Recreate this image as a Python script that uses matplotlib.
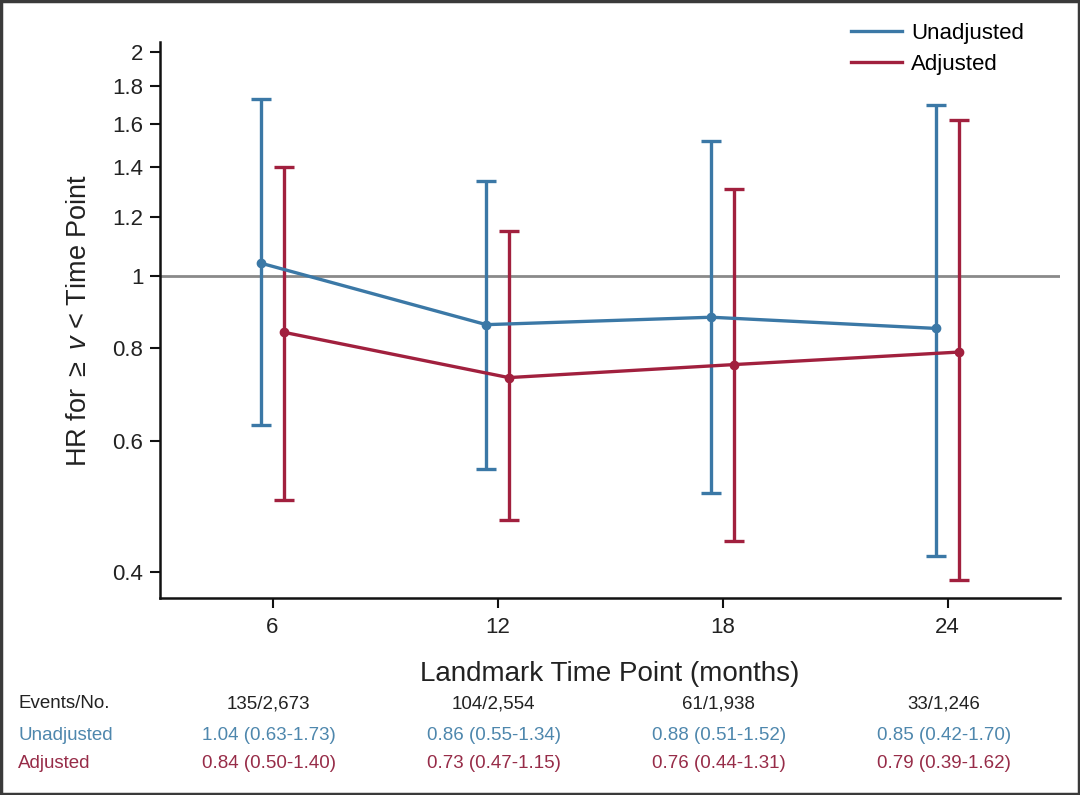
import matplotlib
matplotlib.use("Agg")
import matplotlib.pyplot as plt
from matplotlib.patches import Rectangle
from matplotlib.lines import Line2D

# ---- data ----
timepoints = [6, 12, 18, 24]
events = ["135/2,673", "104/2,554", "61/1,938", "33/1,246"]
unadj_hr = [1.04, 0.86, 0.88, 0.85]
unadj_lo = [0.63, 0.55, 0.51, 0.42]
unadj_hi = [1.73, 1.34, 1.52, 1.70]
adj_hr = [0.84, 0.73, 0.76, 0.79]
adj_lo = [0.50, 0.47, 0.44, 0.39]
adj_hi = [1.40, 1.15, 1.31, 1.62]
yticks = [0.4, 0.6, 0.8, 1, 1.2, 1.4, 1.6, 1.8, 2]
ytick_labels = ["0.4", "0.6", "0.8", "1", "1.2", "1.4", "1.6", "1.8", "2"]

BLUE = "#3b78a6"
RED = "#a1203e"
BLUE_T = "#4e87ad"
RED_T = "#972c48"

plt.rcParams["font.family"] = ["Liberation Sans", "DejaVu Sans"]
plt.rcParams["mathtext.fontset"] = "custom"
plt.rcParams["mathtext.rm"] = "Liberation Sans"
plt.rcParams["mathtext.it"] = "Liberation Sans:italic"

fig = plt.figure(figsize=(10.8, 7.95), dpi=100)
ax = fig.add_axes([160/1080, 1-598/795, 900/1080, (598-42)/795])

ax.set_yscale("log")
ax.set_ylim(0.369, 2.063)
ax.set_xlim(3, 27)

ax.axhline(1, color="#8a8a8a", lw=2.0, zorder=1)

off = 0.3
def draw(hr, lo, hi, dx, color):
    xs = [t + dx for t in timepoints]
    yerr = [[h - l for h, l in zip(hr, lo)], [u - h for h, u in zip(hr, hi)]]
    ax.errorbar(xs, hr, yerr=yerr, color=color, lw=2.4, elinewidth=2.4,
                capsize=7.5, capthick=2.4, marker="o", ms=6, zorder=3)

draw(unadj_hr, unadj_lo, unadj_hi, -off, BLUE)
draw(adj_hr, adj_lo, adj_hi, off, RED)

ax.yaxis.set_major_locator(matplotlib.ticker.FixedLocator(yticks))
ax.yaxis.set_major_formatter(matplotlib.ticker.FixedFormatter(ytick_labels))
ax.yaxis.set_minor_locator(matplotlib.ticker.NullLocator())
ax.set_xticks(timepoints)
ax.set_xticklabels([str(t) for t in timepoints])

for s in ["top", "right"]:
    ax.spines[s].set_visible(False)
for s in ["left", "bottom"]:
    ax.spines[s].set_linewidth(1.8)
    ax.spines[s].set_color("#111111")
ax.tick_params(axis="both", labelsize=16, width=1.5, length=7, color="#111111",
               labelcolor="#222222")
ax.tick_params(axis="x", pad=7)
ax.tick_params(axis="y", pad=5)

ax.set_ylabel(r"HR for $\geq$ $\mathit{v}$ < Time Point", fontsize=19.5,
              color="#222222", labelpad=15)
ax.set_xlabel("Landmark Time Point (months)", fontsize=20,
              color="#222222", labelpad=16)

handles = [Line2D([], [], color=BLUE, lw=2.4), Line2D([], [], color=RED, lw=2.4)]
fig.legend(handles, ["Unadjusted", "Adjusted"], loc="upper left",
           bbox_to_anchor=(831/1080, 1-3/795), frameon=False, fontsize=16,
           handlelength=2.3, handletextpad=0.4, labelspacing=0.45)

# table below
trans = matplotlib.transforms.blended_transform_factory(ax.transData, fig.transFigure)
rows = [("Events/No.", events, "#222222"),
        ("Unadjusted", [f"{h:.2f} ({l:.2f}-{u:.2f})" for h, l, u in zip(unadj_hr, unadj_lo, unadj_hi)], BLUE_T),
        ("Adjusted", [f"{h:.2f} ({l:.2f}-{u:.2f})" for h, l, u in zip(adj_hr, adj_lo, adj_hi)], RED_T)]
ys = [704, 735, 764]
for (label, vals, c), y in zip(rows, ys):
    yf = 1 - y/795
    fig.text(18/1080, yf, label, fontsize=13.5, color=c, ha="left", va="center")
    for t, v in zip(timepoints, vals):
        fig.text(t - 0.1, yf, v, fontsize=13.5, color=c, ha="center", va="center", transform=trans)

fig.patches.append(Rectangle((0.001, 0.001), 0.998, 0.998, transform=fig.transFigure,
                             fill=False, edgecolor="#3a3a3a", lw=2.5))

fig.savefig("out.png", dpi=100)
